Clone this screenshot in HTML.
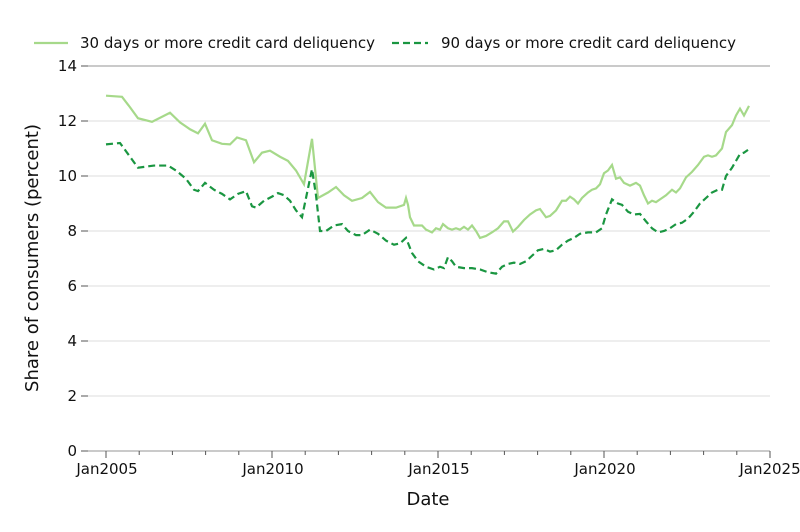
<!DOCTYPE html>
<html><head><style>
body{margin:0;background:#fff;}
svg{display:block;font-family:"DejaVu Sans","Liberation Sans",sans-serif;}
</style></head><body>
<svg width="800" height="532" viewBox="0 0 800 532">
<g stroke="#ddd" stroke-width="1">
<line x1="88" x2="770" y1="396" y2="396"/><line x1="88" x2="770" y1="341" y2="341"/>
<line x1="88" x2="770" y1="286" y2="286"/><line x1="88" x2="770" y1="231" y2="231"/>
<line x1="88" x2="770" y1="176" y2="176"/><line x1="88" x2="770" y1="121" y2="121"/>
</g>
<line x1="88" x2="770" y1="66" y2="66" stroke="#aaa" stroke-width="1.2"/>
<line x1="88" x2="770" y1="451" y2="451" stroke="#aaa" stroke-width="1.2"/>
<g stroke="#555" stroke-width="1">
<line x1="81" x2="88" y1="451" y2="451"/><line x1="81" x2="88" y1="396" y2="396"/><line x1="81" x2="88" y1="341" y2="341"/><line x1="81" x2="88" y1="286" y2="286"/><line x1="81" x2="88" y1="231" y2="231"/><line x1="81" x2="88" y1="176" y2="176"/><line x1="81" x2="88" y1="121" y2="121"/><line x1="81" x2="88" y1="66" y2="66"/>
<line x1="106" x2="106" y1="451" y2="458"/><line x1="272" x2="272" y1="451" y2="458"/><line x1="438" x2="438" y1="451" y2="458"/><line x1="604" x2="604" y1="451" y2="458"/><line x1="770" x2="770" y1="451" y2="458"/>
<line x1="139.2" x2="139.2" y1="451" y2="455"/><line x1="172.4" x2="172.4" y1="451" y2="455"/><line x1="205.6" x2="205.6" y1="451" y2="455"/><line x1="238.8" x2="238.8" y1="451" y2="455"/>
<line x1="305.2" x2="305.2" y1="451" y2="455"/><line x1="338.4" x2="338.4" y1="451" y2="455"/><line x1="371.6" x2="371.6" y1="451" y2="455"/><line x1="404.8" x2="404.8" y1="451" y2="455"/>
<line x1="471.2" x2="471.2" y1="451" y2="455"/><line x1="504.4" x2="504.4" y1="451" y2="455"/><line x1="537.6" x2="537.6" y1="451" y2="455"/><line x1="570.8" x2="570.8" y1="451" y2="455"/>
<line x1="637.2" x2="637.2" y1="451" y2="455"/><line x1="670.4" x2="670.4" y1="451" y2="455"/><line x1="703.6" x2="703.6" y1="451" y2="455"/><line x1="736.8" x2="736.8" y1="451" y2="455"/>
</g>
<g font-size="15" fill="#111" text-anchor="end">
<text x="77" y="456">0</text><text x="77" y="401">2</text><text x="77" y="346">4</text><text x="77" y="291">6</text><text x="77" y="236">8</text><text x="77" y="181">10</text><text x="77" y="126">12</text><text x="77" y="71">14</text>
</g>
<g font-size="15" fill="#111" text-anchor="middle">
<text x="107" y="474">Jan2005</text><text x="273" y="474">Jan2010</text><text x="439" y="474">Jan2015</text><text x="605" y="474">Jan2020</text><text x="770" y="474">Jan2025</text>
</g>
<text x="428" y="505" font-size="18" text-anchor="middle" fill="#111">Date</text>
<text transform="translate(38,258) rotate(-90)" font-size="18" text-anchor="middle" fill="#111">Share of consumers (percent)</text>
<g transform="translate(0,451) scale(1,-27.5)" fill="none">
<path vector-effect="non-scaling-stroke" stroke="#a6d98a" stroke-width="2.2" d="M106,12.92 L122,12.88 130,12.5 138,12.1 152,11.97 170,12.3 180,11.95 190,11.7 198,11.55 205,11.9 212,11.3 222,11.17 230,11.15 237,11.4 246,11.3 254,10.5 262,10.85 270,10.92 280,10.7 288,10.55 296,10.2 304,9.7 312,11.35 318,9.2 328,9.4 336,9.6 344,9.3 352,9.1 362,9.2 370,9.42 378,9.05 386,8.85 396,8.85 404,8.95 406,9.2 408,8.95 410,8.5 414,8.2 422,8.2 426,8.05 432,7.95 436,8.1 440,8.05 443,8.25 448,8.1 452,8.05 456,8.1 460,8.05 464,8.15 468,8.05 472,8.2 476,8.0 480,7.75 486,7.82 492,7.95 498,8.1 504,8.35 508,8.35 513,7.98 518,8.15 524,8.4 530,8.6 536,8.75 540,8.8 546,8.5 550,8.55 556,8.75 562,9.1 566,9.1 570,9.25 574,9.15 578,9.0 582,9.2 588,9.4 592,9.5 596,9.55 600,9.7 604,10.1 608,10.2 612,10.4 616,9.9 620,9.95 624,9.75 630,9.65 636,9.75 640,9.65 644,9.3 648,9.0 652,9.1 656,9.05 660,9.15 666,9.3 672,9.5 676,9.4 680,9.55 686,9.95 692,10.15 698,10.4 704,10.7 708,10.75 712,10.7 716,10.75 722,11.0 726,11.6 732,11.85 736,12.2 740,12.45 744,12.2 749,12.55"/>
<path vector-effect="non-scaling-stroke" stroke="#1a9641" stroke-width="2.2" stroke-dasharray="7,4" d="M106,11.15 L120,11.2 124,11.0 132,10.6 138,10.3 154,10.38 168,10.38 176,10.2 186,9.9 194,9.5 198,9.45 205,9.75 214,9.5 222,9.35 230,9.15 238,9.35 246,9.45 252,8.9 256,8.85 264,9.1 272,9.25 278,9.38 284,9.3 290,9.1 296,8.75 302,8.5 308,9.55 312,10.25 316,9.3 320,8.0 326,8.0 334,8.2 342,8.25 348,8.0 356,7.85 362,7.85 370,8.05 378,7.9 386,7.65 394,7.5 400,7.55 406,7.75 412,7.2 418,6.9 426,6.7 434,6.6 440,6.7 444,6.65 448,7.05 452,6.9 456,6.7 464,6.65 472,6.65 480,6.6 488,6.5 496,6.45 502,6.7 508,6.8 514,6.85 520,6.8 526,6.9 532,7.1 538,7.3 544,7.35 550,7.25 556,7.3 562,7.5 568,7.65 574,7.75 580,7.9 588,7.95 596,7.95 602,8.1 606,8.6 612,9.15 618,9.0 622,8.95 628,8.7 634,8.6 640,8.62 646,8.35 652,8.1 658,7.95 664,8.0 670,8.1 676,8.25 682,8.3 688,8.45 694,8.7 700,9.0 706,9.2 712,9.4 718,9.5 722,9.5 726,10.0 732,10.3 736,10.55 740,10.8 744,10.85 748,10.95"/>
</g>
<line x1="34" x2="68" y1="43" y2="43" stroke="#a6d98a" stroke-width="2.2"/>
<text x="80" y="48" font-size="15" fill="#111">30 days or more credit card deliquency</text>
<line x1="392" x2="428" y1="43" y2="43" stroke="#1a9641" stroke-width="2.2" stroke-dasharray="7,4"/>
<text x="441" y="48" font-size="15" fill="#111">90 days or more credit card deliquency</text>
</svg>
</body></html>
